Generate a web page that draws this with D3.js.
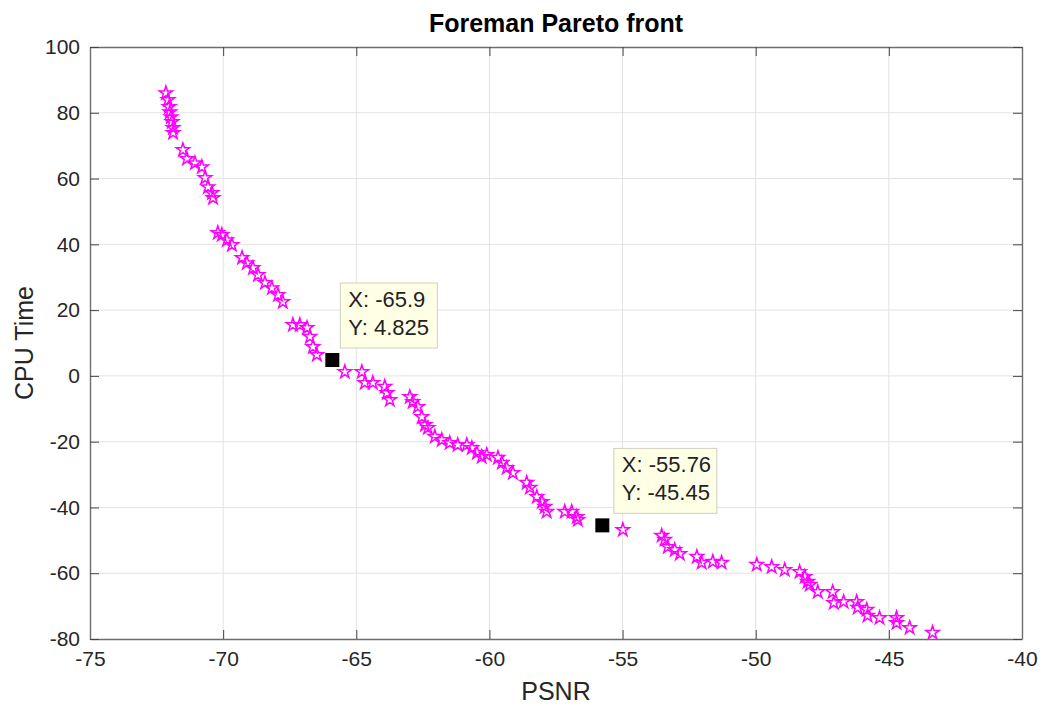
<!DOCTYPE html>
<html lang="en">
<head>
<meta charset="UTF-8">
<title>Foreman Pareto front</title>
<style>
  body, html { margin: 0; padding: 0; background: #ffffff; }
  svg { font-family: "Liberation Sans", Arial, Helvetica, sans-serif; }
</style>
</head>
<body>
<svg id="chart" width="1045" height="706"></svg>
<script src="https://d3js.org/d3.v7.min.js"></script>
<script>
// Pareto front points (PSNR, CPU Time)
const psnr = [
  -72.15, -72.07, -72.03, -72.00, -71.96, -71.92, -71.88, -71.88,
  -71.51, -71.36, -71.06, -70.80, -70.68, -70.57, -70.42, -70.38,
  -70.20, -70.05, -69.86, -69.67, -69.29, -69.11, -68.88, -68.69,
  -68.43, -68.17, -67.94, -67.76, -67.38, -67.12, -66.85, -66.74,
  -66.63, -66.48, -65.43, -64.79, -64.68, -64.38, -63.93, -63.85,
  -63.74, -62.99, -62.88, -62.69, -62.54, -62.42, -62.31, -62.05,
  -61.79, -61.49, -61.19, -60.85, -60.66, -60.47, -60.29, -60.10,
  -59.68, -59.53, -59.35, -59.12, -58.60, -58.48, -58.22, -58.03,
  -57.92, -57.85, -57.17, -56.91, -56.72, -56.68, -54.99, -53.53,
  -53.42, -53.30, -53.04, -52.85, -52.21, -52.03, -51.61, -51.28,
  -49.96, -49.40, -48.91, -48.35, -48.16, -48.05, -47.97, -47.67,
  -47.11, -47.07, -46.70, -46.21, -46.17, -45.83, -45.80, -45.35,
  -44.71, -44.71, -44.22, -43.36
];
const cpuTime = [
  86.0, 83.9, 81.8, 80.2, 78.7, 77.2, 75.4, 73.9,
  68.7, 66.0, 64.7, 63.5, 60.2, 57.4, 55.6, 54.1,
  43.5, 42.9, 41.3, 39.8, 35.9, 34.3, 32.8, 30.7,
  28.3, 26.7, 24.6, 22.5, 15.5, 15.5, 14.6, 11.9,
  8.8, 6.4, 1.2, 1.2, -2.1, -2.1, -3.3, -5.2,
  -7.3, -6.4, -7.9, -9.4, -12.5, -14.9, -15.8, -18.5,
  -19.5, -20.4, -21.0, -21.0, -21.9, -23.4, -24.6, -24.0,
  -24.9, -26.4, -28.0, -29.5, -32.5, -34.0, -36.8, -38.3,
  -39.8, -41.3, -41.3, -41.3, -42.9, -43.8, -46.8, -48.6,
  -49.8, -52.0, -52.9, -54.1, -55.0, -56.8, -56.5, -56.8,
  -57.4, -58.1, -59.0, -59.6, -61.1, -62.6, -63.5, -65.7,
  -65.7, -69.0, -68.7, -68.7, -70.5, -71.1, -72.9, -73.6,
  -73.6, -75.1, -76.6, -78.1
];

// data tips
const tipX = [-65.9, -55.76];
const tipY = [4.825, -45.45];
const tipXLabels = ["X: -65.9", "X: -55.76"];
const tipYLabels = ["Y: 4.825", "Y: -45.45"];

const xTicks = [-75, -70, -65, -60, -55, -50, -45, -40];
const yTicks = [100, 80, 60, 40, 20, 0, -20, -40, -60, -80];

const svg = d3.select("#chart");
const mLeft = 90, mRight = 1022, mTop = 47, mBottom = 639;

const x = d3.scaleLinear().domain([-75, -40]).range([mLeft, mRight]);
const y = d3.scaleLinear().domain([-80, 100]).range([mBottom, mTop]);

// grid
const grid = svg.append("g").attr("stroke", "#e3e3e3").attr("stroke-width", 1);
grid.selectAll(".gx").data(xTicks.slice(1, -1)).join("line")
  .attr("x1", d => x(d)).attr("x2", d => x(d))
  .attr("y1", mTop).attr("y2", mBottom);
grid.selectAll(".gy").data(yTicks.slice(1, -1)).join("line")
  .attr("y1", d => y(d)).attr("y2", d => y(d))
  .attr("x1", mLeft).attr("x2", mRight);

// axes (MATLAB style, ticks inside, plain hyphen minus)
const axisColor = "#262626";
const fmt = d => String(d);
const xAxisB = svg.append("g").attr("transform", `translate(0,${mBottom})`)
  .call(d3.axisBottom(x).tickValues(xTicks).tickFormat(fmt).tickSizeInner(-9).tickSizeOuter(0).tickPadding(14));
const xAxisT = svg.append("g").attr("transform", `translate(0,${mTop})`)
  .call(d3.axisTop(x).tickValues(xTicks).tickSizeInner(-9).tickSizeOuter(0).tickFormat(""));
const yAxisL = svg.append("g").attr("transform", `translate(${mLeft},0)`)
  .call(d3.axisLeft(y).tickValues(yTicks).tickFormat(fmt).tickSizeInner(-9).tickSizeOuter(0).tickPadding(10));
const yAxisR = svg.append("g").attr("transform", `translate(${mRight},0)`)
  .call(d3.axisRight(y).tickValues(yTicks).tickSizeInner(-9).tickSizeOuter(0).tickFormat(""));

[xAxisB, xAxisT, yAxisL, yAxisR].forEach(a => {
  a.select(".domain").attr("stroke", "#6e6e6e").attr("stroke-width", 1.4);
  a.selectAll(".tick line").attr("stroke", "#444").attr("stroke-width", 1);
  a.selectAll("text").attr("fill", axisColor).style("font-size", "21px")
    .style("font-family", "'Liberation Sans', Arial, sans-serif");
});
xAxisB.selectAll("text").attr("dy", "0.6em");

// pentagram markers
const star = d3.symbol().type(d3.symbolStar).size(55);
svg.append("g")
  .selectAll("path")
  .data(psnr.map((p, i) => [p, cpuTime[i]]))
  .join("path")
  .attr("d", star)
  .attr("transform", d => `translate(${x(d[0])},${y(d[1])})`)
  .attr("fill", "none")
  .attr("stroke", "#ff00ff")
  .attr("stroke-width", 1.5)
  .attr("stroke-linejoin", "miter");

// data tips
const tips = svg.append("g");
tipX.forEach((tx, i) => {
  const px = x(tx), py = y(tipY[i]);
  tips.append("rect")
    .attr("x", px - 7).attr("y", py - 7)
    .attr("width", 14).attr("height", 14)
    .attr("fill", "#000");
  const bw = i === 0 ? 97 : 103;
  const bx = px + (i === 0 ? 8 : 11.5), byy = py - 77;
  tips.append("rect")
    .attr("x", bx).attr("y", byy)
    .attr("width", bw).attr("height", 65)
    .attr("fill", "#ffffe6")
    .attr("stroke", "#d0d0c0")
    .attr("stroke-width", 1);
  tips.append("text")
    .attr("x", bx + 8).attr("y", byy + 24)
    .attr("fill", "#222").style("font-size", "22px")
    .text(tipXLabels[i]);
  tips.append("text")
    .attr("x", bx + 8).attr("y", byy + 52)
    .attr("fill", "#222").style("font-size", "22px")
    .text(tipYLabels[i]);
});

// title and axis labels
svg.append("text")
  .attr("x", (mLeft + mRight) / 2).attr("y", 32)
  .attr("text-anchor", "middle")
  .style("font-size", "25px").style("font-weight", "bold")
  .attr("fill", "#000")
  .text("Foreman Pareto front");

svg.append("text")
  .attr("x", (mLeft + mRight) / 2).attr("y", 700)
  .attr("text-anchor", "middle")
  .style("font-size", "25px")
  .attr("fill", axisColor)
  .text("PSNR");

svg.append("text")
  .attr("transform", `translate(33,${(mTop + mBottom) / 2}) rotate(-90)`)
  .attr("text-anchor", "middle")
  .style("font-size", "25px")
  .attr("fill", axisColor)
  .text("CPU Time");
</script>
</body>
</html>
